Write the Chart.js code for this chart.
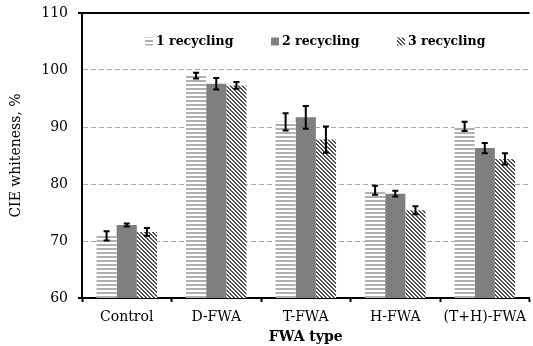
<!DOCTYPE html>
<html>
<head>
<meta charset="utf-8">
<script src="https://cdn.jsdelivr.net/npm/chart.js@4/dist/chart.umd.min.js"></script>
<style>
  html, body { margin: 0; padding: 0; background: #fff; }
  #wrap { width: 533px; height: 346px; position: relative; }
</style>
</head>
<body>
<div id="wrap"><canvas id="c" width="533" height="346"></canvas></div>
<script>
// FWA types on the x axis
const categories = ['Control', 'D-FWA', 'T-FWA', 'H-FWA', '(T+H)-FWA'];
const seriesNames = ['1 recycling', '2 recycling', '3 recycling'];

// CIE whiteness (%) after each recycling
const recycling1 = [70.9, 99.0, 90.9, 78.9, 90.1];
const recycling2 = [72.8, 97.6, 91.7, 78.3, 86.3];
const recycling3 = [71.6, 97.3, 87.8, 75.4, 84.4];

// Standard deviations (error bars)
const err1 = [0.8, 0.5, 1.5, 0.8, 0.8];
const err2 = [0.25, 1.0, 2.0, 0.5, 0.9];
const err3 = [0.7, 0.6, 2.3, 0.7, 1.0];

const yTicks = [60, 70, 80, 90, 100, 110];

const SERIF = '"DejaVu Serif", serif';

function horizontalStripes() {
  const c = document.createElement('canvas');
  c.width = 4; c.height = 4;
  const g = c.getContext('2d');
  g.fillStyle = '#ffffff'; g.fillRect(0, 0, 4, 4);
  g.fillStyle = '#b0b0b0'; g.fillRect(0, 0, 4, 2);
  return g.createPattern(c, 'repeat');
}
function diagonalHatch() {
  const c = document.createElement('canvas');
  c.width = 4; c.height = 4;
  const g = c.getContext('2d');
  g.fillStyle = '#ffffff'; g.fillRect(0, 0, 4, 4);
  g.fillStyle = '#505050';
  for (let y = 0; y < 4; y++) {
    g.fillRect(y, y, 1, 1);
    g.fillRect((y + 1) % 4, y, 1, 1);
  }
  return g.createPattern(c, 'repeat');
}

const fills = [horizontalStripes(), '#7f7f7f', diagonalHatch()];
const values = [recycling1, recycling2, recycling3];
const errors = [err1, err2, err3];

// Error bars drawn over every bar from its value and deviation
const errorBars = {
  id: 'errorBars',
  afterDatasetsDraw(chart) {
    const ctx = chart.ctx;
    const y = chart.scales.y;
    ctx.save();
    ctx.strokeStyle = '#000';
    ctx.lineWidth = 2;
    chart.data.datasets.forEach((ds, di) => {
      const meta = chart.getDatasetMeta(di);
      meta.data.forEach((bar, i) => {
        const v = ds.data[i], e = ds.errors[i];
        const yHi = y.getPixelForValue(v + e);
        const yLo = y.getPixelForValue(v - e);
        const x = bar.x;
        ctx.beginPath();
        ctx.moveTo(x, yHi); ctx.lineTo(x, yLo);
        ctx.moveTo(x - 3, yHi); ctx.lineTo(x + 3, yHi);
        ctx.moveTo(x - 3, yLo); ctx.lineTo(x + 3, yLo);
        ctx.stroke();
      });
    });
    ctx.restore();
  }
};

// Frame top line and the legend row inside the plot
const frameAndLegend = {
  id: 'frameAndLegend',
  afterDraw(chart) {
    const ctx = chart.ctx;
    const a = chart.chartArea;
    ctx.save();
    ctx.strokeStyle = '#000';
    ctx.lineWidth = 2;
    ctx.beginPath();
    ctx.moveTo(a.left - 4, a.top);
    ctx.lineTo(a.right, a.top);
    ctx.moveTo(a.left - 4, a.bottom);
    ctx.lineTo(a.left, a.bottom);
    ctx.stroke();

    ctx.font = 'bold 12.5px ' + SERIF;
    ctx.textBaseline = 'middle';
    ctx.fillStyle = '#000';
    const cy = a.top + 28.5;
    chart.data.datasets.forEach((ds, i) => {
      const bx = a.left + 63 + i * 126;
      ctx.fillStyle = ds.backgroundColor;
      ctx.fillRect(bx, cy - 4, 8, 8);
      ctx.fillStyle = '#000';
      ctx.fillText(ds.label, bx + 11, cy);
    });
    ctx.restore();
  }
};

new Chart(document.getElementById('c'), {
  type: 'bar',
  data: {
    labels: categories,
    datasets: values.map((vals, i) => ({
      label: seriesNames[i],
      data: vals,
      errors: errors[i],
      backgroundColor: fills[i],
      borderWidth: 0,
      barPercentage: 1.0,
      categoryPercentage: 0.676
    }))
  },
  options: {
    responsive: false,
    animation: false,
    devicePixelRatio: 1,
    layout: { padding: { top: 13, right: 0, left: 0, bottom: 0 } },
    plugins: {
      legend: { display: false },
      tooltip: { enabled: false }
    },
    scales: {
      x: {
        afterFit(s) { s.height = 48; },
        grid: {
          offset: true,
          drawOnChartArea: false,
          drawTicks: true,
          tickLength: 4,
          tickColor: '#000',
          tickWidth: 2
        },
        border: { display: true, color: '#000', width: 2 },
        ticks: {
          color: '#000',
          padding: 7,
          font: { family: SERIF, size: 14 }
        },
        title: {
          display: true,
          text: 'FWA type',
          color: '#000',
          font: { family: SERIF, size: 14, weight: 'bold' },
          padding: { top: 0, bottom: 0 }
        }
      },
      y: {
        min: 60,
        max: 110,
        afterFit(s) {
          s.width = 82;
          s.paddingTop = 0;
          s.paddingBottom = 0;
        },
        afterBuildTicks(s) { s.ticks = yTicks.map(v => ({ value: v })); },
        grid: {
          drawTicks: false,
          color: ctx => (ctx.tick && (ctx.tick.value === 60 || ctx.tick.value === 110)) ? 'rgba(0,0,0,0)' : '#a6a6a6',
          lineWidth: 1
        },
        border: { display: true, color: '#000', width: 2, dash: [5, 3] },
        ticks: {
          color: '#000',
          padding: 14,
          font: { family: SERIF, size: 14 }
        },
        title: {
          display: true,
          text: 'CIE whiteness, %',
          color: '#000',
          font: { family: SERIF, size: 14 },
          padding: { top: 7.6, bottom: 0 }
        }
      }
    }
  },
  plugins: [errorBars, frameAndLegend]
});
</script>
</body>
</html>
